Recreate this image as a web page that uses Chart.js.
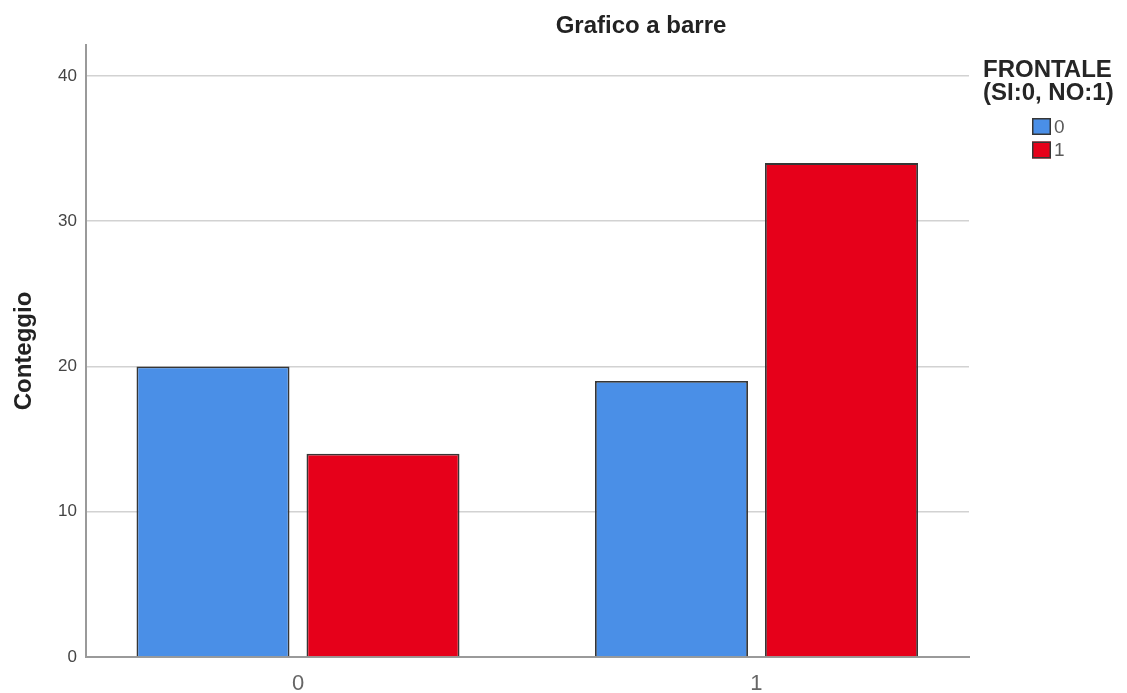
<!DOCTYPE html>
<html>
<head>
<meta charset="utf-8">
<title>Grafico a barre</title>
<script src="https://cdn.jsdelivr.net/npm/chart.js@4/dist/chart.umd.min.js"></script>
<style>
  html, body { margin: 0; padding: 0; background: #ffffff; }
  #wrap { width: 1127px; height: 693px; position: relative; }
</style>
</head>
<body>
<div id="wrap"><canvas id="chart" width="1127" height="693"></canvas></div>
<script>
// Categories on the x axis (FRONTALE groups) and the two series of counts
const categories = [0, 1];
const seriesLabels = ['0', '1'];
const counts0 = [20, 19];
const counts1 = [14, 34];
const yTicks = [0, 10, 20, 30, 40];

const chartTitle = 'Grafico a barre';
const legendTitle = ['FRONTALE', '(SI:0, NO:1)'];
const yTitle = 'Conteggio';

const BLUE = '#4a8fe7';
const RED = '#e6001a';
const EDGE = '#363636';
const FONT = '"Liberation Sans", Arial, sans-serif';

const toPoints = (vals) => categories.map((c, i) => ({ x: c, y: vals[i] }));

// Title and legend block drawn next to the plot area
const captions = {
  id: 'captions',
  afterDraw(chart) {
    const { ctx, chartArea } = chart;
    ctx.save();
    ctx.fillStyle = '#222222';
    ctx.font = 'bold 24px ' + FONT;
    ctx.textAlign = 'center';
    ctx.textBaseline = 'alphabetic';
    ctx.fillText(chartTitle, 641, 33);

    const lx = chartArea.right + 14;
    ctx.textAlign = 'left';
    ctx.fillStyle = '#262626';
    legendTitle.forEach((line, i) => ctx.fillText(line, lx, 77 + i * 23));

    const bx = lx + 49;
    chart.data.datasets.forEach((ds, i) => {
      const by = 118 + i * 23.5;
      ctx.fillStyle = ds.backgroundColor;
      ctx.fillRect(bx, by, 19, 17);
      ctx.strokeStyle = EDGE;
      ctx.lineWidth = 1.5;
      ctx.strokeRect(bx + 0.75, by + 0.75, 17.5, 15.5);
      ctx.fillStyle = '#5a5a5a';
      ctx.font = '19px ' + FONT;
      ctx.textBaseline = 'middle';
      ctx.fillText(ds.label, bx + 22, by + 9.5);
    });
    ctx.restore();
  }
};

new Chart(document.getElementById('chart'), {
  type: 'bar',
  data: {
    datasets: [
      { label: seriesLabels[0], data: toPoints(counts0), backgroundColor: BLUE, borderColor: EDGE, borderWidth: 1.8 },
      { label: seriesLabels[1], data: toPoints(counts1), backgroundColor: RED, borderColor: EDGE, borderWidth: 1.8 }
    ]
  },
  options: {
    responsive: false,
    animation: false,
    devicePixelRatio: 1,
    categoryPercentage: 0.7416,
    barPercentage: 0.9,
    layout: { padding: { top: 45, right: 158, left: 0, bottom: 0 } },
    plugins: {
      legend: { display: false },
      title: { display: false },
      tooltip: { enabled: false }
    },
    scales: {
      x: {
        type: 'linear',
        min: -0.4624,
        max: 1.4635,
        offset: false,
        bounds: 'data',
        grid: { display: false, offset: false },
        border: { display: true, color: '#9a9a9a', width: 2 },
        afterBuildTicks(scale) { scale.ticks = categories.map(v => ({ value: v })); },
        afterFit(scale) { scale.height = 36; },
        ticks: {
          padding: 6,
          color: '#666666',
          font: { family: FONT, size: 22 },
          callback: (v) => String(v)
        }
      },
      y: {
        min: 0,
        max: 42.13,
        bounds: 'data',
        afterBuildTicks(scale) { scale.ticks = yTicks.map(v => ({ value: v })); },
        afterFit(scale) { scale.width = 86; },
        grid: { color: '#d2d2d2', lineWidth: 1.5, drawTicks: false },
        border: { display: true, color: '#9a9a9a', width: 2 },
        ticks: {
          padding: 9,
          color: '#444444',
          font: { family: FONT, size: 17 }
        },
        title: {
          display: true,
          text: yTitle,
          color: '#222222',
          font: { family: FONT, size: 24, weight: 'bold' },
          padding: { top: 10, bottom: 0 }
        }
      }
    }
  },
  plugins: [captions]
});
</script>
</body>
</html>
